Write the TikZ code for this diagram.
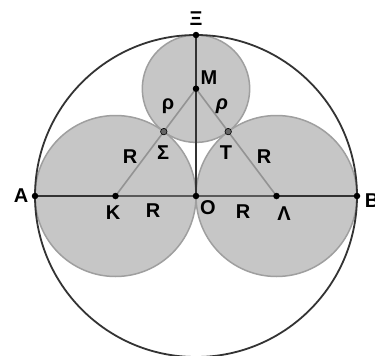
\documentclass[tikz,border=0pt]{standalone}
\usepackage{fontspec}
\setmainfont{Liberation Sans}
\usetikzlibrary{calc}
\begin{document}
\begin{tikzpicture}[x=1pt,y=-1pt,
  disk/.style={fill=gray!45!white, draw=gray!75, line width=1.5pt},
  dark/.style={draw=black!80, line width=2pt},
  lite/.style={draw=gray!85, line width=1.6pt},
  pt/.style={circle, fill=black, inner sep=0pt, minimum size=6.5pt},
  gpt/.style={circle, fill=black!60, draw=black, line width=0.6pt, inner sep=0pt, minimum size=6.5pt},
  lab/.style={font=\bfseries\fontsize{20}{20}\selectfont, inner sep=0pt}]
\useasboundingbox (0,0) rectangle (375,356);
\clip (0,0) rectangle (375,356);
\fill[white] (0,0) rectangle (375,356);
% geometry
\coordinate (O) at (196,196);
\coordinate (K) at (115.5,196);
\coordinate (L) at (276.5,196);
\coordinate (M) at (196,88.7);
\coordinate (A) at (35,196);
\coordinate (B) at (357,196);
\coordinate (X) at (196,35);
\coordinate (S) at ($(K)!0.6!(M)$);
\coordinate (T) at ($(L)!0.6!(M)$);
% disks
\draw[disk] (K) circle (80.5);
\draw[disk] (L) circle (80.5);
\draw[disk] (M) circle (53.7);
% big circle
\draw[draw=black!80, line width=1.8pt] (O) circle (161);
% lines
\draw[lite] (K) -- (M) -- (L);
\draw[dark] (A) -- (K);
\draw[draw=black!65, line width=2pt] (K) -- (O) -- (L);
\draw[dark] (L) -- (B);
\draw[dark] (O) -- (X);
% points
\node[pt] (nA) at (A) {};
\node[pt] (nB) at (B) {};
\node[pt] (nK) at (K) {};
\node[pt] (nL) at (L) {};
\node[pt] (nO) at (O) {};
\node[pt] (nM) at (M) {};
\node[pt] (nX) at (X) {};
\node[gpt] (nS) at (S) {};
\node[gpt] (nT) at (T) {};
% labels
\node[lab] (lX) at (196,19) {Ξ};
\node[lab] (lM) at (209,78) {M};
\node[lab] (lr1) at (168,106) {ρ};
\node[lab] (lr2) at (222,106) {\itshape ρ};
\node[lab] (lS) at (163,153) {Σ};
\node[lab] (lT) at (226,153) {T};
\node[lab] (lR1) at (130,157) {R};
\node[lab] (lR2) at (264,157) {R};
\node[lab] (lA) at (21,196) {A};
\node[lab] (lK) at (113,213) {K};
\node[lab] (lR3) at (153,211) {R};
\node[lab] (lO) at (208,208) {O};
\node[lab] (lR4) at (243,212) {R};
\node[lab] (lL) at (284,214) {Λ};
\node[lab] (lB) at (372,201) {B};
\end{tikzpicture}
\end{document}
